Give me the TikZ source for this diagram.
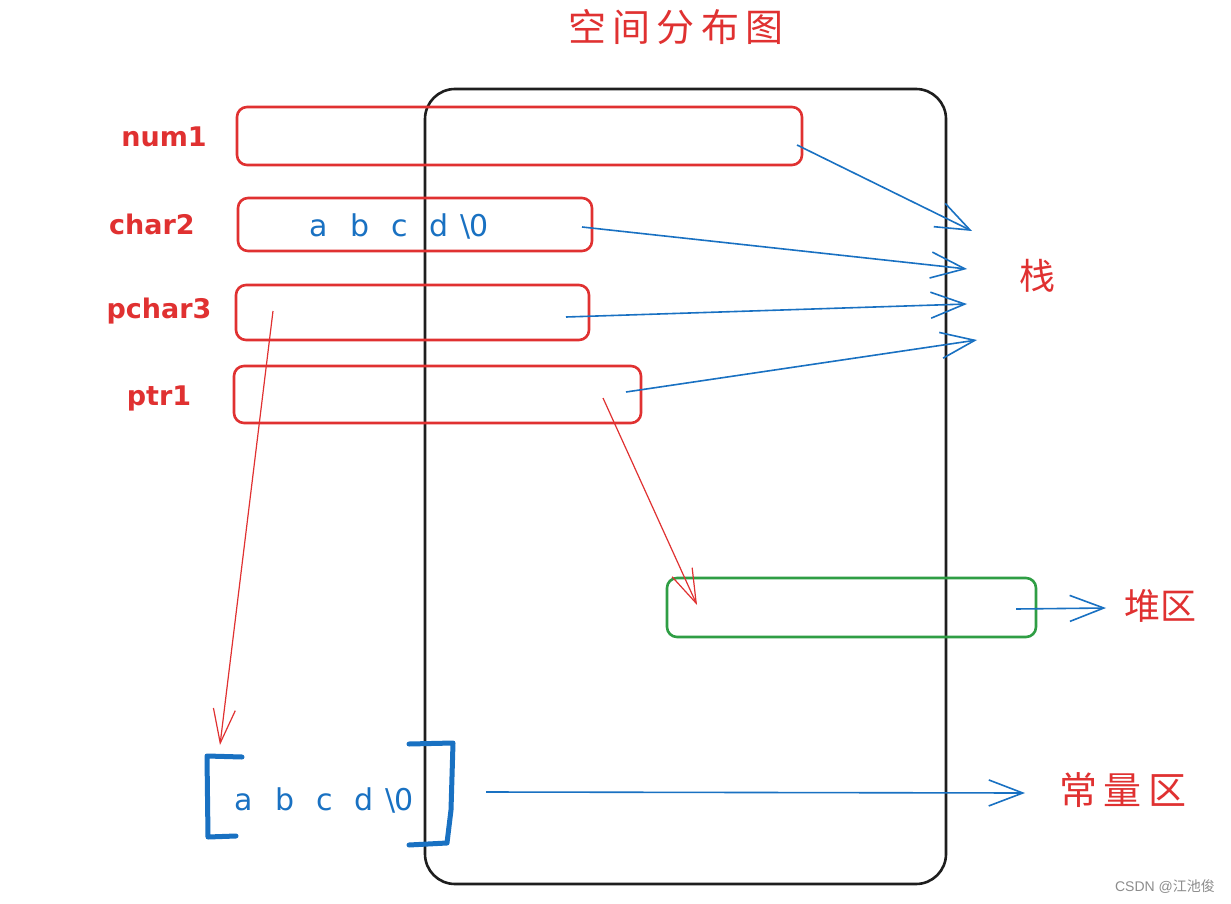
\documentclass[tikz,border=0pt]{standalone}
\usepackage{fontspec}
\setmainfont{DejaVu Sans}
\newfontfamily\cjkfont{Noto Sans CJK SC}
\newfontfamily\wmfont{Liberation Sans}
\usetikzlibrary{arrows.meta}
\definecolor{xred}{HTML}{E03131}
\definecolor{xblue}{HTML}{1971C2}
\definecolor{xgreen}{HTML}{2F9E44}
\definecolor{xblack}{HTML}{1E1E1E}
\tikzset{
  varbox/.style={draw=xred, line width=2.6pt, rounded corners=10pt, minimum width=#1, inner sep=0pt},
  lbl/.style={text=xred, font=\bfseries\fontsize{27}{28}\selectfont, inner sep=0pt},
  cjk/.style={text=xred, font=\cjkfont\fontsize{#1}{#1}\selectfont, inner sep=0pt},
  bluearr/.style={draw=xblue, line width=1.6pt, -{Straight Barb[length=34pt,width=26pt,line width=1.6pt]}},
  redarr/.style={draw=xred, line width=1.2pt, -{Straight Barb[length=34pt,width=22pt,line width=1.2pt]}},
  chars/.style={text=xblue, font=\fontsize{30}{30}\selectfont, inner sep=0pt}
}
\newcommand{\abcd}{a\hspace{22pt}b\hspace{22pt}c\hspace{22pt}d\hspace{12pt}\textbackslash\hspace{-2pt}0}
\begin{document}
\begin{tikzpicture}[x=1pt,y=-1pt]
\useasboundingbox[fill=white] (0,0) rectangle (1231,904);
% memory region
\node[draw=xblack, line width=2.6pt, rounded corners=30pt, minimum width=521pt, minimum height=795pt, inner sep=0pt] (mem) at (685.5,486.5) {};
% title
\node[cjk=38] (title) at (676,27) {空\,间\,分\,布\,图};
% variable boxes
\node[varbox=565pt, minimum height=58pt] (num1) at (519.5,136) {};
\node[varbox=354pt, minimum height=53pt] (char2) at (415,224.5) {};
\node[varbox=353pt, minimum height=55pt] (pchar3) at (412.5,312.5) {};
\node[varbox=407pt, minimum height=57pt] (ptr1) at (437.5,394.5) {};
\node[draw=xgreen, line width=2.6pt, rounded corners=10pt, minimum width=369pt, minimum height=59pt, inner sep=0pt] (heap) at (851.5,607.5) {};
% labels
\node[lbl] (lnum1) at (164,137) {num1};
\node[lbl] (lchar2) at (152,224) {char2};
\node[lbl] (lpchar3) at (159,311) {pchar3};
\node[lbl] (lptr1) at (159,398) {ptr1};
\node[chars] (c2text) at (399,226) {\abcd};
% region labels
\node[cjk=36] (stack) at (1037,276) {栈};
\node[cjk=36] (heaplbl) at (1160,606) {堆区};
\node[cjk=38] (constlbl) at (1123,790) {常\,量\,区};
\node[text=black!45, font=\wmfont\fontsize{14}{14}\selectfont, inner sep=0pt] (wm) at (1165,887) {CSDN @{\cjkfont 江池俊}};
% constant string
\node[chars] (ctext) at (324,800) {\abcd};
\coordinate (lbt) at (242,757);
\coordinate (rbt) at (409,744);
\draw[xblue, line width=5pt, line cap=round, line join=round] (lbt) -- (207,756) -- (208,837) -- (236,836);
\draw[xblue, line width=5pt, line cap=round, line join=round] (rbt) -- (453,743) -- (451,810) -- (447,843) -- (409,845);
% coordinates for connectors
\coordinate (s1) at (797,145);
\coordinate (t1) at (972,231);
\coordinate (s2) at (582,227);
\coordinate (t2) at (967,269);
\coordinate (s3) at (566,317);
\coordinate (t3) at (967,304);
\coordinate (s4) at (626,392);
\coordinate (t4) at (977,340);
\coordinate (s5) at (1016,609);
\coordinate (t5) at (1106,608);
\coordinate (s6) at (486,792);
\coordinate (t6) at (1025,793);
\coordinate (s7) at (273,311);
\coordinate (t7) at (220,745);
\coordinate (s8) at (603,398);
\coordinate (t8) at (697,605);
% arrows
\draw[bluearr] (s1) -- (t1);
\draw[bluearr] (s2) -- (t2);
\draw[bluearr] (s3) -- (t3);
\draw[bluearr] (s4) -- (t4);
\draw[bluearr] (s5) -- (t5);
\draw[bluearr] (s6) -- (t6);
\draw[redarr] (s7) -- (t7);
\draw[redarr] (s8) -- (t8);
\end{tikzpicture}
\end{document}
